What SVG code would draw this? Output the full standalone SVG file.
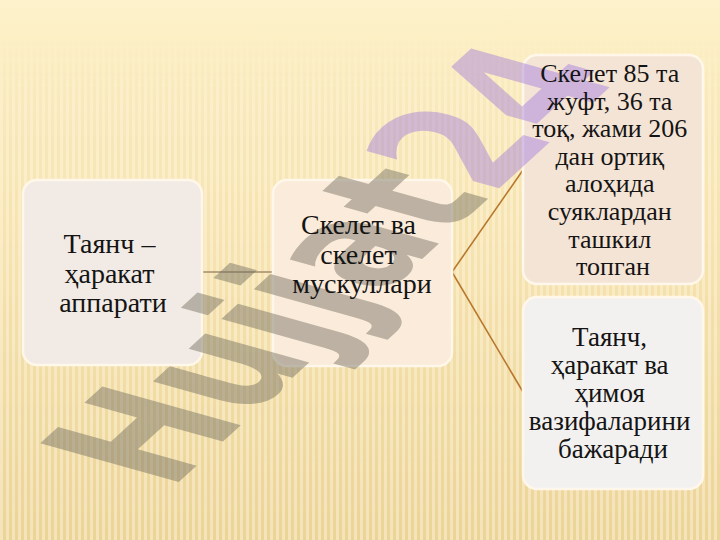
<svg xmlns="http://www.w3.org/2000/svg" width="720" height="540" viewBox="0 0 720 540">
  <defs>
    <linearGradient id="bg" x1="0" y1="0" x2="0" y2="1">
      <stop offset="0" stop-color="#FDF2CC"/>
      <stop offset="0.08" stop-color="#FCEFC4"/>
      <stop offset="0.5" stop-color="#F8E6B4"/>
      <stop offset="1" stop-color="#EFD89C"/>
    </linearGradient>
    <pattern id="stripes" width="6" height="10" patternUnits="userSpaceOnUse">
      <rect x="0" y="0" width="3" height="10" fill="#FFFFFF" fill-opacity="0.3"/>
      <rect x="3" y="0" width="3" height="10" fill="#C8A860" fill-opacity="0.08"/>
    </pattern>
    <linearGradient id="fade" x1="0" y1="0" x2="0" y2="1">
      <stop offset="0" stop-color="#FFFFFF" stop-opacity="0"/>
      <stop offset="0.06" stop-color="#FFFFFF" stop-opacity="0"/>
      <stop offset="0.2" stop-color="#FFFFFF" stop-opacity="0.6"/>
      <stop offset="1" stop-color="#FFFFFF" stop-opacity="1"/>
    </linearGradient>
    <mask id="stripeMask">
      <rect x="0" y="0" width="720" height="540" fill="url(#fade)"/>
    </mask>
    <style>
      .box { stroke: #FFF8EA; stroke-width: 2.5; }
      .lbl { fill: #141414; text-anchor: middle; }
      .c1 { fill: none; stroke: #A38D6D; stroke-width: 1.6; }
      .c2 { fill: none; stroke: #B8782E; stroke-width: 1.6; }
    </style>
  </defs>

  <rect x="0" y="0" width="720" height="540" fill="url(#bg)"/>
  <rect x="0" y="0" width="720" height="540" fill="url(#stripes)" mask="url(#stripeMask)"/>

  <g id="connectors">
    <line class="c1" x1="202" y1="272" x2="273" y2="272"/>
    <polyline class="c2" points="523,170 452,272 523,392"/>
  </g>

  <g id="node1">
    <rect class="box" x="23" y="180" width="179" height="185" rx="14" fill="#F2EBE5"/>
  </g>
  <g id="node2">
    <rect class="box" x="273" y="180" width="179" height="186" rx="14" fill="#FBEBDA"/>
  </g>
  <g id="node3">
    <rect class="box" x="523" y="55" width="180" height="229" rx="14" fill="#F4E4D6"/>
  </g>
  <g id="node4">
    <rect class="box" x="523" y="297" width="180" height="192" rx="14" fill="#F3F1F0"/>
  </g>

  <g id="watermark">
    <text font-family="'DejaVu Sans', 'Liberation Sans', sans-serif" font-weight="bold" font-size="100" transform="matrix(0.95,-0.87,1.9,0.53,170,490)"><tspan fill="#6E6A5E" fill-opacity="0.45">Hujjat</tspan><tspan fill="#8A5FE0" fill-opacity="0.36">24</tspan></text>
  </g>

  <g id="labels" font-family="'Liberation Serif', Tinos, 'Times New Roman', 'DejaVu Serif', serif">
    <text class="lbl" font-size="28">
      <tspan x="113" y="253">Таянч –</tspan>
      <tspan x="113" y="283">ҳаракат</tspan>
      <tspan x="113" y="312">аппарати</tspan>
    </text>
    <text class="lbl" font-size="28">
      <tspan x="362" y="234">Скелет ва</tspan>
      <tspan x="362" y="264">скелет</tspan>
      <tspan x="362" y="293">мускуллари</tspan>
    </text>
    <text class="lbl" font-size="26">
      <tspan x="613" y="82">Скелет 85 та</tspan>
      <tspan x="613" y="109.6">жуфт, 36 та</tspan>
      <tspan x="613" y="137.2">тоқ, жами 206</tspan>
      <tspan x="613" y="164.8">дан ортиқ</tspan>
      <tspan x="613" y="192.4">алоҳида</tspan>
      <tspan x="613" y="220">суяклардан</tspan>
      <tspan x="613" y="247.6">ташкил</tspan>
      <tspan x="613" y="275">топган</tspan>
    </text>
    <text class="lbl" font-size="27">
      <tspan x="613" y="346">Таянч,</tspan>
      <tspan x="613" y="374">ҳаракат ва</tspan>
      <tspan x="613" y="402">ҳимоя</tspan>
      <tspan x="613" y="430">вазифаларини</tspan>
      <tspan x="613" y="458">бажаради</tspan>
    </text>
  </g>
</svg>
